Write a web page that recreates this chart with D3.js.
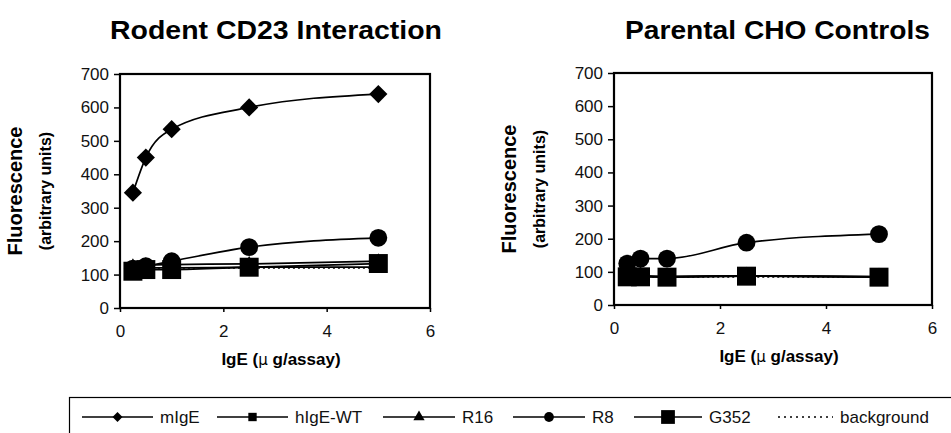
<!DOCTYPE html>
<html>
<head>
<meta charset="utf-8">
<script src="https://cdn.jsdelivr.net/npm/d3@7"></script>
<style>
    body { margin: 0; background: #fff; }
    svg { display: block; font-family: 'Liberation Sans', Arial, sans-serif; }
</style>
</head>
<body>
<svg id="chart" width="951" height="433"></svg>
<script>
// IgE doses (ug/assay)
const doses = [0.25, 0.5, 1, 2.5, 5];

// Rodent CD23 interaction
const rodentMIgE = [345, 450, 535, 600, 640];
const rodentHIgEWT = [118, 120, 120, 122, 122];
const rodentR16 = [125, 128, 130, 132, 140];
const rodentR8 = [118, 125, 140, 182, 210];
const rodentG352 = [110, 115, 115, 122, 133];
const rodentBackground = [120, 120, 120, 120, 120];

// Parental CHO controls
const choMIgE = [90, 88, 86, 88, 85];
const choHIgEWT = [88, 86, 85, 87, 85];
const choR16 = [90, 88, 86, 88, 86];
const choR8 = [125, 140, 140, 188, 214];
const choG352 = [85, 85, 84, 87, 84];
const choBackground = [85, 85, 85, 85, 85];

const seriesNames = ['mIgE', 'hIgE-WT', 'R16', 'R8', 'G352', 'background'];
const yTicks = [0, 100, 200, 300, 400, 500, 600, 700];
const xTicks = [0, 2, 4, 6];

const markerOf = {
    'mIgE': 'diamond',
    'hIgE-WT': 'smallsquare',
    'R16': 'triangle',
    'R8': 'circle',
    'G352': 'bigsquare',
    'background': null
};

const svg = d3.select('#chart');

// symbol areas: plot markers and the smaller legend markers
const plotArea = { diamond: 165, smallsquare: 110, triangle: 80, circle: 250, bigsquare: 360 };
const legendArea = { diamond: 50, smallsquare: 70, triangle: 55, circle: 75, bigsquare: 190 };

function marker(type, big) {
    const a = big ? plotArea[type] : legendArea[type];
    if (type === 'triangle') return d3.symbol(d3.symbolTriangle, a)();
    if (type === 'circle') return d3.symbol(d3.symbolCircle, a)();
    return d3.symbol(d3.symbolSquare, a)();
}

function drawPanel(opts) {
    const x = d3.scaleLinear().domain([0, 6]).range([opts.left, opts.right]);
    const y = d3.scaleLinear().domain([0, 700]).range([opts.bottom, opts.top]);
    const g = svg.append('g');

    g.append('text')
        .attr('x', (opts.titleX0 + opts.titleX1) / 2)
        .attr('y', 39)
        .attr('text-anchor', 'middle')
        .attr('font-size', 25)
        .attr('font-weight', 'bold')
        .attr('textLength', opts.titleX1 - opts.titleX0)
        .attr('lengthAdjust', 'spacingAndGlyphs')
        .text(opts.title);

    const yAxis = g.append('g')
        .attr('transform', 'translate(' + opts.left + ',0)')
        .call(d3.axisLeft(y).tickValues(yTicks).tickSize(6).tickPadding(5).tickSizeOuter(0));
    yAxis.select('.domain').remove();
    yAxis.selectAll('.tick line').attr('stroke', '#000').attr('stroke-width', 1.5);
    yAxis.selectAll('.tick text').attr('font-size', 17).attr('font-family', "'Liberation Sans', Arial, sans-serif").attr('fill', '#111');

    const xAxis = g.append('g')
        .attr('transform', 'translate(0,' + opts.bottom + ')')
        .call(d3.axisBottom(x).tickValues(xTicks).tickFormat(d3.format('d')).tickSize(4).tickPadding(13).tickSizeOuter(0));
    xAxis.select('.domain').remove();
    xAxis.selectAll('.tick line').attr('stroke', '#000').attr('stroke-width', 1.5);
    xAxis.selectAll('.tick text').attr('font-size', 17).attr('font-family', "'Liberation Sans', Arial, sans-serif").attr('fill', '#111');

    // plot frame
    g.append('rect')
        .attr('x', opts.left)
        .attr('y', opts.top)
        .attr('width', opts.right - opts.left)
        .attr('height', opts.bottom - opts.top)
        .attr('fill', 'none')
        .attr('stroke', '#000')
        .attr('stroke-width', 2.2);

    const cy = (opts.top + opts.bottom) / 2;
    g.append('text')
        .attr('transform', 'translate(' + (opts.left - 98) + ',' + cy + ') rotate(-90)')
        .attr('text-anchor', 'middle')
        .attr('font-size', 20)
        .attr('font-weight', 'bold')
        .text('Fluorescence');
    g.append('text')
        .attr('transform', 'translate(' + (opts.left - 69) + ',' + cy + ') rotate(-90)')
        .attr('text-anchor', 'middle')
        .attr('font-size', 16)
        .attr('font-weight', 'bold')
        .text('(arbitrary units)');

    const xl = g.append('text')
        .attr('x', (opts.left + opts.right) / 2 + 6)
        .attr('y', opts.bottom + 57)
        .attr('text-anchor', 'middle')
        .attr('font-size', 17)
        .attr('font-weight', 'bold');
    xl.append('tspan').text('IgE (');
    xl.append('tspan').attr('font-family', "'DejaVu Sans', sans-serif").attr('font-weight', 'normal').attr('font-size', 15).text('\u03bc ');
    xl.append('tspan').text('g/assay)');

    const line = d3.line()
        .x((d, i) => x(doses[i]))
        .y(d => y(d))
        .curve(d3.curveMonotoneX);

    opts.series.forEach((vals, si) => {
        const name = seriesNames[si];
        g.append('path')
            .datum(vals)
            .attr('d', line)
            .attr('fill', 'none')
            .attr('stroke', '#000')
            .attr('stroke-width', 1.7)
            .attr('stroke-dasharray', name === 'background' ? '2,3' : null);
        const type = markerOf[name];
        if (type) {
            g.selectAll(null)
                .data(vals)
                .enter()
                .append('path')
                .attr('d', marker(type, true))
                .attr('transform', (d, i) => 'translate(' + x(doses[i]) + ',' + y(d) + ')' + (type === 'diamond' ? ' rotate(45)' : ''))
                .attr('fill', '#000');
        }
    });
}

drawPanel({
    title: 'Rodent CD23 Interaction',
    titleX0: 110, titleX1: 442,
    left: 120, right: 430, top: 74, bottom: 308,
    series: [rodentMIgE, rodentHIgEWT, rodentR16, rodentR8, rodentG352, rodentBackground]
});

drawPanel({
    title: 'Parental CHO Controls',
    titleX0: 625, titleX1: 930,
    left: 614, right: 932, top: 73, bottom: 305,
    series: [choMIgE, choHIgEWT, choR16, choR8, choG352, choBackground]
});

// legend
const legend = svg.append('g');
legend.append('rect')
    .attr('x', 69.5)
    .attr('y', 397.5)
    .attr('width', 900)
    .attr('height', 60)
    .attr('fill', 'none')
    .attr('stroke', '#000')
    .attr('stroke-width', 1.2);

const legendX = [82, 217, 383, 513, 634, 778];
const legendW = [71, 71, 72, 72, 68, 55];
const legendY = 417;
seriesNames.forEach((name, i) => {
    const x0 = legendX[i];
    const w = legendW[i];
    legend.append('line')
        .attr('x1', x0).attr('x2', x0 + w)
        .attr('y1', legendY).attr('y2', legendY)
        .attr('stroke', '#000')
        .attr('stroke-width', 1.6)
        .attr('stroke-dasharray', name === 'background' ? '2,4' : null);
    const type = markerOf[name];
    if (type) {
        legend.append('path')
            .attr('d', marker(type, false))
            .attr('transform', 'translate(' + (x0 + w / 2) + ',' + legendY + ')' + (type === 'diamond' ? ' rotate(45)' : ''))
            .attr('fill', '#000');
    }
    legend.append('text')
        .attr('x', x0 + w + 7)
        .attr('y', legendY + 6)
        .attr('font-size', 17)
        .attr('fill', '#111')
        .text(name);
});
</script>
</body>
</html>
